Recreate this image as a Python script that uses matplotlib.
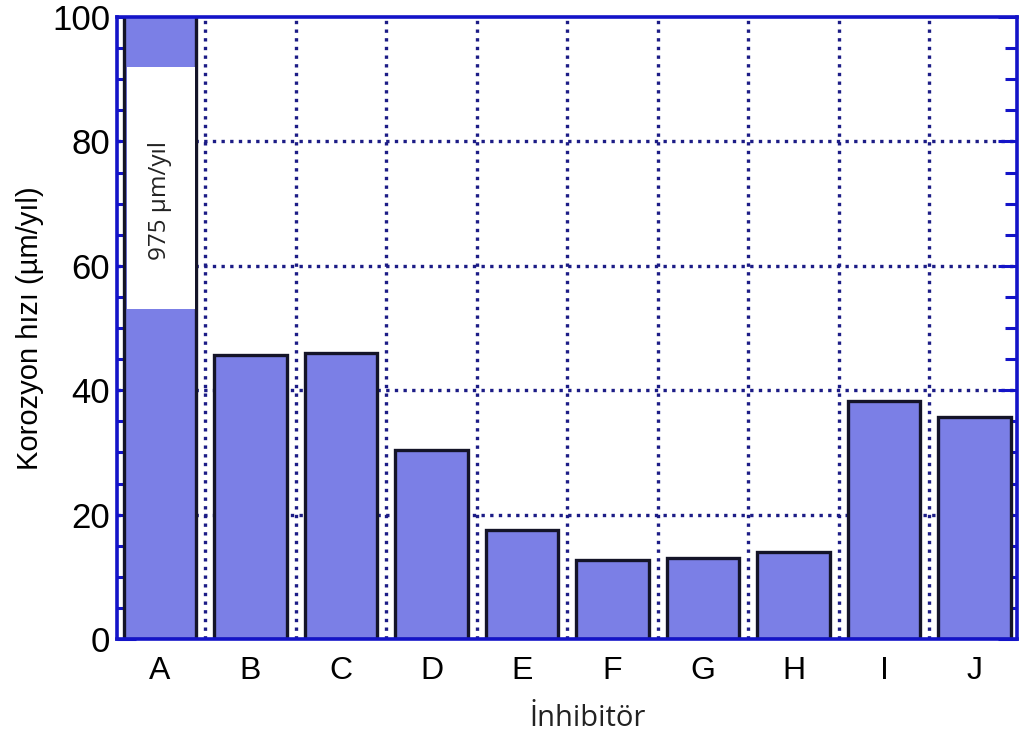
import matplotlib
matplotlib.use("Agg")
import matplotlib.pyplot as plt
from matplotlib.ticker import MultipleLocator
from matplotlib.patches import Rectangle

categories = ["A", "B", "C", "D", "E", "F", "G", "H", "I", "J"]
rates = [975, 45.7, 46.0, 30.4, 17.6, 12.7, 13.1, 14.0, 38.2, 35.7]
y_ticks = [0, 20, 40, 60, 80, 100]
break_low, break_high = 53, 92
annotation = "975 µm/yıl"
ylabel = "Korozyon hızı (µm/yıl)"
xlabel = "İnhibitör"

bar_color = "#7b7fe6"
edge_color = "#141428"
spine_color = "#1414c8"
grid_color = "#1c1c86"

fig = plt.figure(figsize=(10.21, 7.42), dpi=100)
ax = fig.add_axes([117 / 1021, 1 - 639 / 742, 900 / 1021, 622 / 742])

x = list(range(len(categories)))
ax.bar(x, rates, width=0.8, color=bar_color, edgecolor=edge_color,
       linewidth=2.4, zorder=2)

ax.set_xlim(-0.475, len(categories) - 0.53)
ax.set_ylim(0, 100)

# white break box on bar A
ax.add_patch(Rectangle((-0.36, break_low), 0.745, break_high - break_low,
                       facecolor="white", edgecolor="none", zorder=3))
ax.text(0, 70.5, annotation, rotation=90,
        ha="center", va="center", fontsize=17.5, family="Open Sans",
        color="#222222", zorder=4)

# grid
for i in range(len(categories) - 1):
    ax.axvline(i + 0.5, color=grid_color, linestyle=(0, (1, 1.6)),
               linewidth=2.4, zorder=1)
for yv in y_ticks[1:-1]:
    ax.axhline(yv, color=grid_color, linestyle=(0, (1, 1.6)),
               linewidth=2.4, zorder=1)

ax.set_xticks(x)
ax.set_xticklabels(categories, family="Liberation Sans", fontsize=23)
ax.set_yticks(y_ticks)
ax.set_yticklabels([str(v) for v in y_ticks], family="Liberation Sans",
                   fontsize=25)
ax.yaxis.set_minor_locator(MultipleLocator(5))
ax.tick_params(axis="x", length=0, pad=12)
ax.tick_params(axis="y", which="major", direction="in", length=14,
               width=2.2, color=spine_color, left=True, right=True, pad=5)
ax.tick_params(axis="y", which="minor", direction="in", length=8.5,
               width=2.2, color=spine_color, left=True, right=True)

for s in ax.spines.values():
    s.set_color(spine_color)
    s.set_linewidth(2.6)
    s.set_zorder(5)

fig.text(30 / 1021, 1 - 328 / 742, ylabel, rotation=90, ha="center",
         va="center", fontsize=21, family="Liberation Sans")
fig.text(588 / 1021, 1 - 718 / 742, xlabel, ha="center", va="center",
         fontsize=21, family="Open Sans", color="#222222")

fig.savefig("out.png", dpi=100)
